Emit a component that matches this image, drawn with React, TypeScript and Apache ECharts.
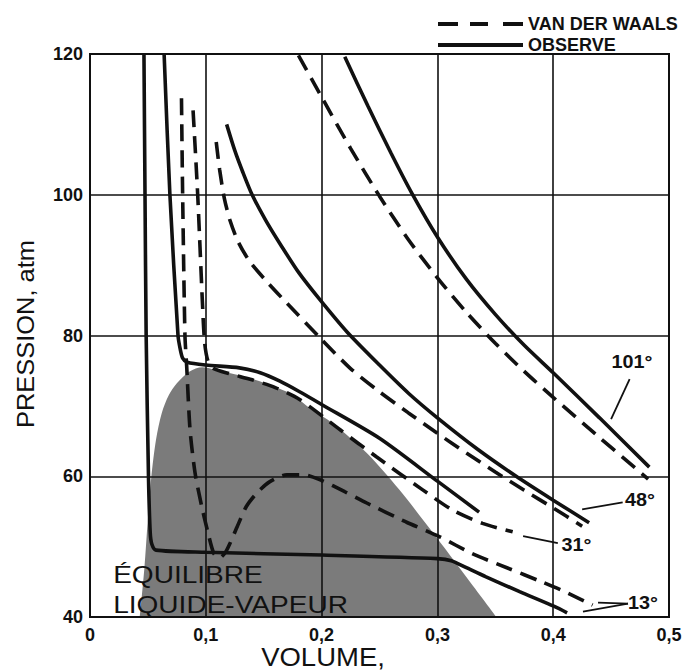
import React, { useEffect, useRef } from 'react';
import * as echarts from 'echarts';

// ---- data (volume, pressure in atm) ----
const volumeRange = [0, 0.5];
const pressureRange = [40, 120];

const obs13 = [
  [0.0466, 120], [0.0475, 100], [0.0485, 80], [0.0505, 60], [0.052, 52], [0.0535, 50.3],
  [0.057, 49.5], [0.1, 49.2], [0.2, 48.8], [0.3, 48.3], [0.312, 48.0], [0.325, 47.0],
  [0.342, 45.7], [0.371, 43.6], [0.401, 41.5], [0.412, 40.6],
];
const vdw13 = [
  [0.079, 113.7], [0.080, 100], [0.082, 80], [0.0835, 75.6], [0.0864, 66.6], [0.0907, 60.5],
  [0.0965, 55.7], [0.102, 51.9], [0.107, 49.0], [0.112, 48.4], [0.117, 49.2], [0.121, 50.5],
  [0.127, 52.8], [0.135, 55.7], [0.144, 57.6], [0.155, 59.2], [0.17, 60.2], [0.185, 60.2],
  [0.2, 59.4], [0.22, 57.8], [0.239, 56.2], [0.273, 53.5], [0.302, 51.4], [0.33, 49.0],
  [0.36, 47.0], [0.39, 45.0], [0.41, 43.6], [0.434, 41.7],
];
const obs31 = [
  [0.064, 120], [0.069, 100], [0.076, 80], [0.078, 78], [0.080, 76.8], [0.084, 76.2],
  [0.1, 75.8], [0.129, 75.4], [0.147, 74.7], [0.164, 73.5], [0.181, 72.0], [0.2, 70.2],
  [0.25, 65.4], [0.3, 59.3], [0.336, 54.9],
];
const vdw31 = [
  [0.089, 112], [0.093, 100], [0.097, 85], [0.099, 79], [0.102, 76.3], [0.107, 75.3],
  [0.12, 74.6], [0.14, 73.7], [0.16, 72.6], [0.181, 70.9], [0.216, 66.6], [0.247, 62.8],
  [0.287, 58.1], [0.313, 55.2], [0.339, 53.3], [0.365, 52.1],
];
const obs48 = [
  [0.118, 110], [0.125, 106.3], [0.132, 103.2], [0.14, 100], [0.152, 96.3], [0.165, 92.8],
  [0.18, 89], [0.198, 85.2], [0.222, 80.5], [0.25, 75.8], [0.275, 71.8], [0.3, 68.3],
  [0.335, 63.8], [0.368, 60.0], [0.4, 56.6], [0.431, 53.4],
];
const vdw48 = [
  [0.109, 107.5], [0.112, 103.5], [0.116, 99.5], [0.121, 96.3], [0.128, 93.3], [0.138, 90.5],
  [0.153, 87.6], [0.17, 84.6], [0.199, 79.6], [0.225, 75.3], [0.25, 72.0], [0.275, 69.0],
  [0.3, 66.1], [0.325, 63.3], [0.35, 60.6], [0.375, 58.0], [0.4, 55.5], [0.425, 52.9],
];
const obs101 = [
  [0.22, 119.6], [0.24, 112.6], [0.26, 105.9], [0.278, 100.2], [0.3, 94.0], [0.325, 88.0],
  [0.35, 83.0], [0.375, 78.6], [0.4, 74.7], [0.44, 68.3], [0.483, 61.3],
];
const vdw101 = [
  [0.18, 119.8], [0.2, 113.9], [0.225, 106.6], [0.25, 99.8], [0.275, 93.6], [0.3, 88.2],
  [0.325, 83.3], [0.35, 78.9], [0.375, 74.9], [0.4, 71.2], [0.44, 65.5], [0.482, 59.6],
];
const coexistenceDome = [
  [0.043, 40], [0.047, 47], [0.05, 54], [0.053, 60], [0.057, 65.2], [0.062, 69], [0.068, 71.5],
  [0.075, 73.2], [0.086, 74.9], [0.097, 75.5], [0.109, 75.1], [0.13, 74.3], [0.15, 73.3],
  [0.17, 72], [0.181, 70.8], [0.192, 69.4], [0.209, 67.6], [0.239, 63.3], [0.267, 58.1],
  [0.296, 52], [0.325, 45.7], [0.351, 40],
];

const legendNames = ['VAN DER WAALS', 'OBSERVE'];
const isothermTexts = ['101°', '48°', '31°', '13°'];
const regionTexts = ['ÉQUILIBRE', 'LIQUIDE-VAPEUR'];
const xAxisTitle = 'VOLUME,';
const yAxisTitle = 'PRESSION, atm';

// ---- annotation placement (data coordinates) ----
const isothermLabelAt = [[0.468, 76.2], [0.475, 56.6], [0.42, 50.2], [0.4775, 42.0]];
const isothermLeaders = [
  [[[0.466, 73.8], [0.45, 68.1]]],
  [[[0.425, 55.3], [0.46, 56.3]]],
  [[[0.374, 51.5], [0.404, 50.5]]],
  [[[0.4646, 41.9], [0.4387, 42.05]], [[0.4646, 41.9], [0.4257, 40.75]]],
];
const regionTextAt = [[0.02, 45.95], [0.02, 41.7]];

const FONT = '"Liberation Sans", Arial, Helvetica, sans-serif';
const INK = '#111111';
const DASHED_ICON = 'path://M0,0h20v4h-20zM32,0h18v4h-18zM65,0h20v4h-20z';
const SOLID_ICON = 'path://M0,0h85v4h-85z';

export default function App() {
  const ref = useRef<HTMLDivElement>(null);

  useEffect(() => {
    if (!ref.current) return;
    const chart = echarts.init(ref.current, null, { renderer: 'svg' });

    const solid = (data: number[][]) => ({
      type: 'line', name: legendNames[1], data, showSymbol: false, symbol: 'none', smooth: 0.25,
      z: 3, silent: true, lineStyle: { color: INK, width: 3.6, type: 'solid' },
      itemStyle: { color: INK }, emphasis: { disabled: true },
    });
    const dashed = (data: number[][]) => ({
      type: 'line', name: legendNames[0], data, showSymbol: false, symbol: 'none', smooth: 0.25,
      z: 3, silent: true, lineStyle: { color: INK, width: 3.6, type: [17, 9] },
      itemStyle: { color: INK }, emphasis: { disabled: true },
    });

    chart.setOption({
      animation: false,
      backgroundColor: '#ffffff',
      grid: { left: 90, top: 54, right: 17, bottom: 55, show: true, borderColor: INK, borderWidth: 2 },
      legend: {
        data: [
          { name: legendNames[0], icon: DASHED_ICON },
          { name: legendNames[1], icon: SOLID_ICON },
        ],
        orient: 'vertical',
        left: 433,
        top: 10,
        itemWidth: 85,
        itemHeight: 4,
        itemGap: 3,
        selectedMode: false,
        itemStyle: { color: INK, borderWidth: 0 },
        textStyle: { color: INK, fontFamily: FONT, fontWeight: 'bold', fontSize: 18, lineHeight: 18 },
      },
      xAxis: {
        type: 'value', min: volumeRange[0], max: volumeRange[1], interval: 0.1, z: 2,
        axisLine: { show: true, onZero: false, lineStyle: { color: INK, width: 2 } },
        axisTick: { show: false },
        splitLine: { show: true, lineStyle: { color: INK, width: 1.6 } },
        axisLabel: {
          margin: 9, color: INK, fontFamily: FONT, fontWeight: 'bold', fontSize: 18,
          formatter: (v: number) => (v === 0 ? '0' : String(Math.round(v * 10) / 10).replace('.', ',')),
        },
      },
      yAxis: {
        type: 'value', min: pressureRange[0], max: pressureRange[1], interval: 20, z: 2,
        axisLine: { show: true, onZero: false, lineStyle: { color: INK, width: 2 } },
        axisTick: { show: false },
        splitLine: { show: true, lineStyle: { color: INK, width: 1.6 } },
        axisLabel: { margin: 7, color: INK, fontFamily: FONT, fontWeight: 'bold', fontSize: 18 },
      },
      series: [
        {
          type: 'line', name: 'ÉQUILIBRE LIQUIDE-VAPEUR', data: coexistenceDome, showSymbol: false,
          symbol: 'none', smooth: 0.3, z: 1, silent: true,
          lineStyle: { width: 0, color: '#7b7b7b' },
          areaStyle: { color: '#7b7b7b', opacity: 1 },
          emphasis: { disabled: true },
        },
        dashed(vdw13), solid(obs13),
        dashed(vdw31), solid(obs31),
        dashed(vdw48), solid(obs48),
        dashed(vdw101), solid(obs101),
      ],
    });

    const px = (p: number[]) => chart.convertToPixel({ gridIndex: 0 }, p) as number[];
    const graphics: any[] = [];

    isothermTexts.forEach((t, i) => {
      const [x, y] = px(isothermLabelAt[i]);
      graphics.push({
        type: 'text', x, y, scaleX: 1.1, silent: true, z: 10,
        style: {
          text: t, fill: INK, font: `bold 18px ${FONT}`,
          textAlign: 'center', textVerticalAlign: 'middle', align: 'center', verticalAlign: 'middle',
        },
      });
      isothermLeaders[i].forEach((seg) => {
        const a = px(seg[0]);
        const b = px(seg[1]);
        graphics.push({
          type: 'line', silent: true, z: 10,
          shape: { x1: a[0], y1: a[1], x2: b[0], y2: b[1] },
          style: { stroke: INK, lineWidth: 1.8 },
        });
      });
    });

    regionTexts.forEach((t, i) => {
      const [x, y] = px(regionTextAt[i]);
      graphics.push({
        type: 'text', x, y, scaleX: 1.22, silent: true, z: 10,
        style: {
          text: t, fill: INK, font: `23px ${FONT}`,
          textAlign: 'left', textVerticalAlign: 'middle', align: 'left', verticalAlign: 'middle',
        },
      });
    });

    graphics.push({
      type: 'text', x: 26, y: 334, rotation: Math.PI / 2, scaleX: 1.06, silent: true,
      style: {
        text: yAxisTitle, fill: INK, font: `24px ${FONT}`,
        textAlign: 'center', textVerticalAlign: 'middle', align: 'center', verticalAlign: 'middle',
      },
    });
    graphics.push({
      type: 'text', x: 323, y: 657, scaleX: 1.1, silent: true,
      style: {
        text: xAxisTitle, fill: INK, font: `25px ${FONT}`,
        textAlign: 'center', textVerticalAlign: 'middle', align: 'center', verticalAlign: 'middle',
      },
    });

    chart.setOption({ graphic: graphics });

    return () => chart.dispose();
  }, []);

  return (
    <div
      ref={ref}
      style={{ position: 'absolute', left: 0, top: 0, width: 686, height: 672, background: '#fff' }}
    />
  );
}
